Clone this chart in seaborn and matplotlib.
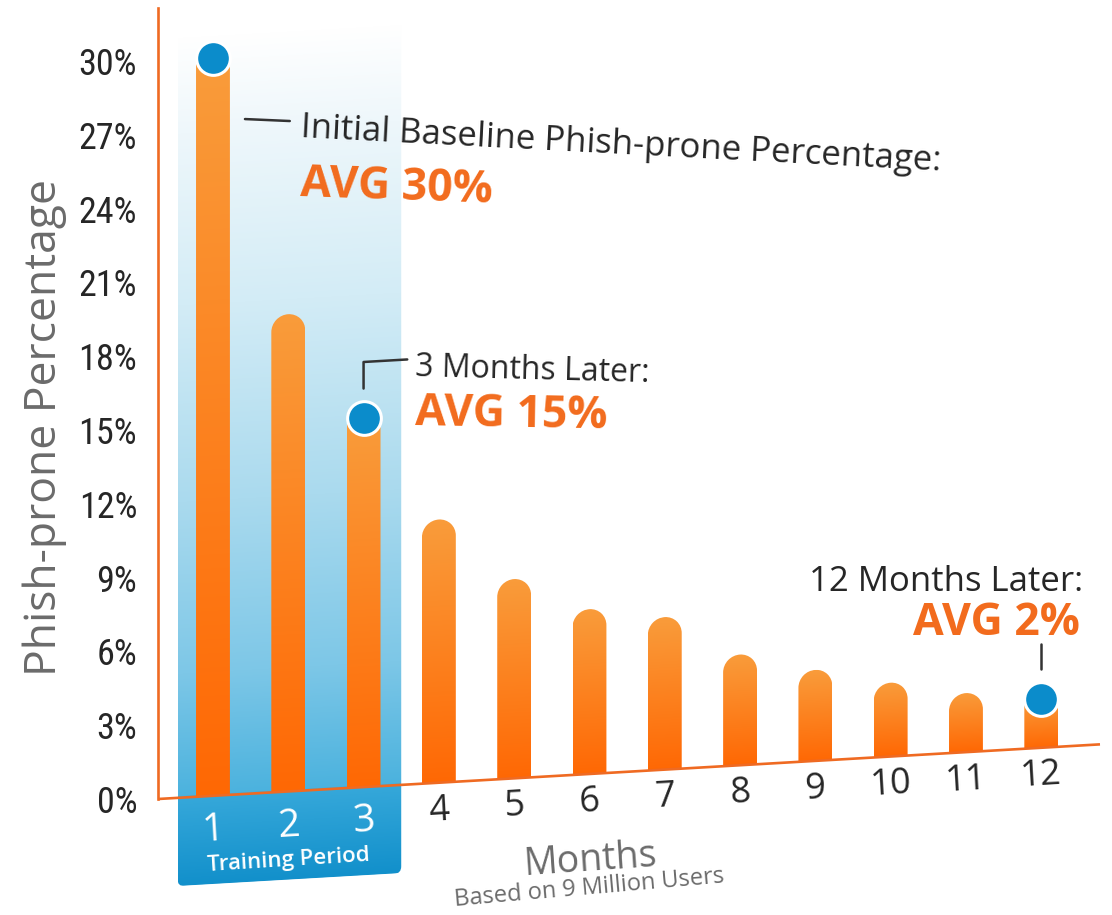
import numpy as np
import pandas as pd
import matplotlib
matplotlib.use("Agg")
import matplotlib.pyplot as plt
import seaborn as sns
from matplotlib.path import Path
from matplotlib.patches import PathPatch
from matplotlib.transforms import Affine2D
from matplotlib.colors import to_rgba
from matplotlib import font_manager

# ---- data -------------------------------------------------------------
months = ["1", "2", "3", "4", "5", "6", "7", "8", "9", "10", "11", "12"]
phish_prone = [30, 19.4, 15, 10.7, 8.1, 6.7, 6.2, 4.5, 3.7, 3.0, 2.4, 2]
highlight_months = ["1", "3", "12"]
training_months = ["1", "2", "3"]
y_ticks = [0, 3, 6, 9, 12, 15, 18, 21, 24, 27, 30]
callout_titles = ["Initial Baseline Phish-prone Percentage:",
                  "3 Months Later:", "12 Months Later:"]
callout_values = ["AVG 30%", "AVG 15%", "AVG 2%"]
x_title = "Months"
x_subtitle = "Based on 9 Million Users"
y_title = "Phish-prone Percentage"
training_label = "Training Period"

# ---- style ------------------------------------------------------------
ORANGE_AXIS = "#EF6A22"
ORANGE_TEXT = "#F26B1D"
BAR_TOP = "#F99C3B"
BAR_BOTTOM = "#FF6804"
DOT_BLUE = "#0B8CCB"
DARK = "#262626"
GREY = "#6B6B6B"

sns.set_theme(style="white")
plt.rcParams["font.family"] = ["Open Sans", "DejaVu Sans"]

# a narrow face for the percentage scale, if one is installed
narrow_family = None
for cand in ["Open Sans Condensed", "Liberation Sans Narrow", "Roboto Condensed"]:
    regular = [f for f in font_manager.fontManager.ttflist
               if f.name == cand and f.weight in (300, 400, "normal", "regular", "light")
               and f.style == "normal"]
    if regular:
        narrow_family = cand
        break
if narrow_family:
    tick_font = dict(family=narrow_family, size=26, weight="normal")
else:
    tick_font = dict(family="Open Sans", size=20, weight="normal")

W, H, DPI = 1112, 915, 100
fig = plt.figure(figsize=(W / DPI, H / DPI), dpi=DPI)
fig.patch.set_facecolor("white")

# axes geometry (pixels): left spine at x=158, zero line at y=799
SPINE_X = 158
ZERO_Y = 799
PXU = 24.6                       # pixels per percentage point
XLIM = (-0.73, 11.78)
YLIM = (-4.55, 32.15)
ax_bottom = ZERO_Y - YLIM[0] * PXU
ax_top = ZERO_Y - YLIM[1] * PXU
ax = fig.add_axes([SPINE_X / W, (H - ax_bottom) / H,
                   (1100 - SPINE_X) / W, (ax_bottom - ax_top) / H])
ax.set_facecolor("none")

# slight perspective tilt of the chart floor
SLOPE = 0.058
TILT = np.degrees(np.arctan(SLOPE))
shear = (Affine2D().translate(-SPINE_X, 0)
         .skew(0, np.arctan(SLOPE)).translate(SPINE_X, 0))

df = pd.DataFrame({"month": months, "rate": phish_prone})
sns.barplot(data=df, x="month", y="rate", order=months, width=0.45,
            color=BAR_BOTTOM, ax=ax, zorder=3)
ax.set_autoscale_on(False)
ax.set_xlim(*XLIM)
ax.set_ylim(*YLIM)
sheared = ax.transData + shear
bar_rects = list(ax.patches)


def blend(stops, n=256):
    pos = np.array([s[0] for s in stops], float)
    cols = np.array([to_rgba(s[1]) for s in stops])
    t = np.linspace(pos[0], pos[-1], n)
    out = np.stack([np.interp(t, pos, cols[:, k]) for k in range(4)], axis=1)
    return out[:, None, :]


# ---- training period panel -------------------------------------------
tr_idx = [months.index(m) for m in training_months]
bx0d, bx1d = tr_idx[0] - 0.47, tr_idx[-1] + 0.5
by0d, by1d = -3.6, 30.9
(bx0, by0) = ax.transData.transform((bx0d, by0d))
(bx1, by1) = ax.transData.transform((bx1d, by1d))
rr = 7
box_path = Path(
    [(bx0, by1), (bx0, by0 + rr), (bx0, by0), (bx0 + rr, by0),
     (bx1 - rr, by0), (bx1, by0), (bx1, by0 + rr), (bx1, by1), (bx0, by1)],
    [Path.MOVETO, Path.LINETO, Path.CURVE3, Path.CURVE3, Path.LINETO,
     Path.CURVE3, Path.CURVE3, Path.LINETO, Path.CLOSEPOLY])
box_patch = PathPatch(box_path, transform=shear, facecolor="none",
                      edgecolor="none", zorder=1)
ax.add_patch(box_patch)
span = by1d - by0d
box_stops = [(0.0, "#1290CB"), ((-0.01 - by0d) / span, "#36A8DA"),
             ((0.0 - by0d) / span, "#4BB2DE"), ((5 - by0d) / span, "#7DC7E7"),
             ((12 - by0d) / span, "#AADAEE"), ((20 - by0d) / span, "#D3ECF6"),
             ((27 - by0d) / span, "#EEF7FB"), (1.0, "#FFFFFF")]
box_img = ax.imshow(blend(box_stops, 512), extent=(bx0, bx1, by0, by1),
                    origin="lower", transform=shear, aspect="auto",
                    interpolation="bilinear", zorder=1)
box_img.set_clip_path(box_patch)

# ---- bars with rounded tops and vertical gradient --------------------
bar_grad = blend([(0.0, BAR_BOTTOM), (1.0, BAR_TOP)])
for rect, month in zip(bar_rects, months):
    x0d, y0d = rect.get_x(), rect.get_y()
    (px0, py0) = ax.transData.transform((x0d, y0d))
    (px1, py1) = ax.transData.transform((x0d + rect.get_width(), y0d + rect.get_height()))
    rect.set_visible(False)
    r = (px1 - px0) / 2
    if month in highlight_months or (py1 - py0) < r:
        path = Path([(px0, py0), (px1, py0), (px1, py1), (px0, py1), (px0, py0)],
                    [Path.MOVETO, Path.LINETO, Path.LINETO, Path.LINETO, Path.CLOSEPOLY])
    else:
        arc = Path.arc(0, 180)
        arc_v = arc.vertices * r + [(px0 + px1) / 2, py1 - r]
        verts = [(px0, py0), (px1, py0), (px1, py1 - r)] + list(arc_v[1:]) + [(px0, py0)]
        codes = [Path.MOVETO, Path.LINETO, Path.LINETO] + list(arc.codes[1:]) + [Path.CLOSEPOLY]
        path = Path(verts, codes)
    bp = PathPatch(path, transform=shear, facecolor="none", edgecolor="none", zorder=3)
    ax.add_patch(bp)
    im = ax.imshow(bar_grad, extent=(px0, px1, py0, py1), origin="lower",
                   transform=shear, aspect="auto", interpolation="bilinear", zorder=3)
    im.set_clip_path(bp)

ax.set_xlim(*XLIM)
ax.set_ylim(*YLIM)

# ---- highlight dots ---------------------------------------------------
hi_x = [months.index(m) for m in highlight_months]
hi_y = [phish_prone[i] for i in hi_x]
dots = ax.scatter(hi_x, hi_y, s=590, color=DOT_BLUE, edgecolors="white",
                  linewidths=2.2, zorder=6)
dots.set_offset_transform(sheared)

# ---- floor line and axis ---------------------------------------------
ax.plot(list(XLIM), [0, 0], color=ORANGE_AXIS, lw=1.9, transform=sheared,
        solid_capstyle="butt", zorder=4, clip_on=False)
for side in ["top", "right", "bottom"]:
    ax.spines[side].set_visible(False)
ax.spines["left"].set_color(ORANGE_AXIS)
ax.spines["left"].set_linewidth(1.9)
ax.spines["left"].set_bounds(0, YLIM[1])

ax.set_yticks(y_ticks)
ax.set_yticklabels([f"{t}%" for t in y_ticks], color=DARK, **tick_font)
ax.tick_params(axis="y", length=0, pad=15)
ax.tick_params(axis="x", length=0, labelbottom=False)
ax.set_xlabel("")
ax.grid(False)

ax.set_ylabel(y_title, fontsize=32, color=GREY)
ax.yaxis.set_label_coords(-0.097, 0.535)

# month labels along the tilted floor
for i, m in enumerate(months):
    in_training = m in training_months
    ax.text(i, -1.4 if in_training else -1.15, m, transform=sheared, rotation=TILT,
            rotation_mode="anchor", ha="center", va="center",
            fontsize=28 if in_training else 26,
            color="white" if in_training else DARK, zorder=7)
ax.text(np.mean(tr_idx), -2.8, training_label, transform=sheared, rotation=3.6,
        rotation_mode="anchor", ha="center", va="center", fontsize=16,
        fontweight="semibold", color="white", zorder=7)

fig.text(590 / W, 1 - 860 / H, x_title, rotation=4, ha="center", va="center",
         fontsize=27, color=GREY)
fig.text(589 / W, 1 - 888 / H, x_subtitle, rotation=5, ha="center", va="center",
         fontsize=17, color=GREY)

# ---- callouts -----------------------------------------------------------
i1, i3, i12 = hi_x
ax.plot([i1 + 0.425, i1 + 1.02], [27.64, 27.56], color="#333333", lw=1.8, zorder=6)
ax.text(1.155, 26.9, callout_titles[0], ha="left", va="baseline", rotation=-3,
        rotation_mode="anchor", fontsize=25, color=DARK)
ax.text(1.155, 24.5, callout_values[0], ha="left", va="baseline", rotation=-2,
        rotation_mode="anchor", fontsize=32, fontweight="bold", color=ORANGE_TEXT)

v3 = phish_prone[i3]
ax.plot([i3, i3, i3 + 0.58], [v3 + 1.2, v3 + 2.28, v3 + 2.28], color="#333333",
        lw=1.8, transform=sheared, zorder=6)
ax.text(2.68, 17.2, callout_titles[1], ha="left", va="baseline", rotation=-1.5,
        rotation_mode="anchor", fontsize=23, color=DARK)
ax.text(2.68, 15.2, callout_values[1], ha="left", va="baseline", rotation=-1,
        rotation_mode="anchor", fontsize=32, fontweight="bold", color=ORANGE_TEXT)

v12 = phish_prone[i12]
ax.plot([i12, i12], [v12 + 1.2, v12 + 2.2], color="#333333", lw=1.8,
        transform=sheared, zorder=6)
ax.text(11.55, 8.46, callout_titles[2], ha="right", va="baseline",
        fontsize=25, color=DARK)
ax.text(11.51, 6.67, callout_values[2], ha="right", va="baseline",
        fontsize=32, fontweight="bold", color=ORANGE_TEXT)

fig.savefig("out.png", dpi=DPI, facecolor="white")
